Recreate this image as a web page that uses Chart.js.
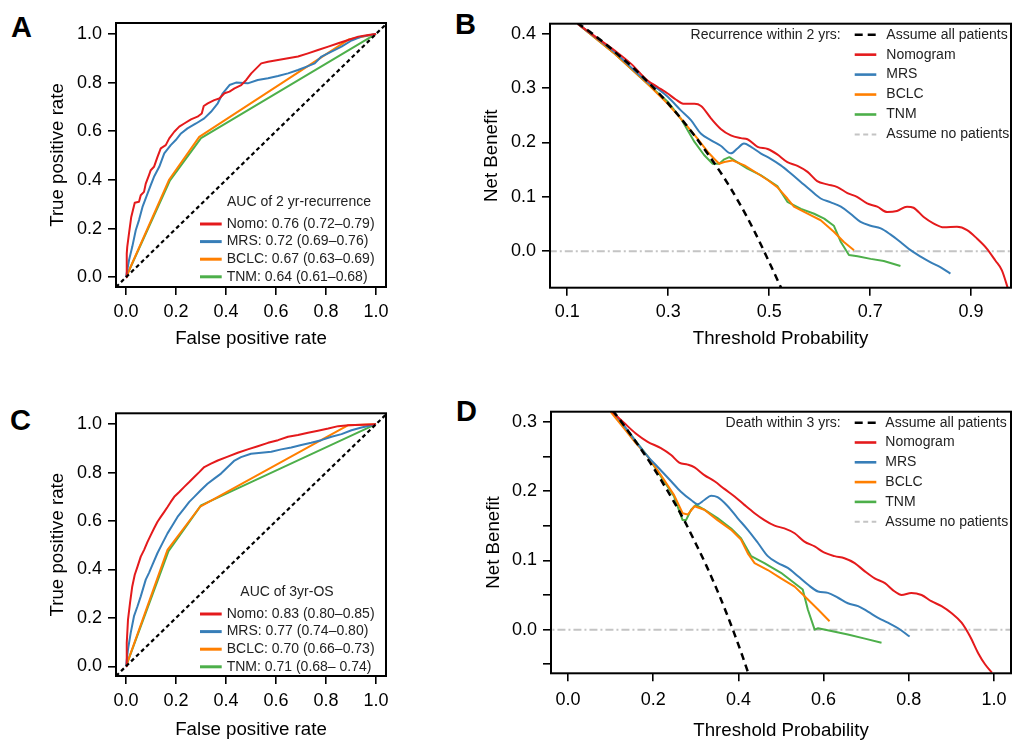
<!DOCTYPE html>
<html><head><meta charset="utf-8">
<script src="https://cdn.jsdelivr.net/npm/chart.js@4.4.1/dist/chart.umd.min.js"></script>
<style>
html,body{margin:0;padding:0;background:#fff;width:1015px;height:747px;overflow:hidden;}
.panel{position:absolute;}
.letter{position:absolute;font-family:'Liberation Sans',Arial,Helvetica,sans-serif;font-weight:bold;font-size:29px;line-height:1;color:#000;}
</style></head><body>
<div class="letter" style="left:11px;top:13px">A</div>
<div class="letter" style="left:455px;top:10px">B</div>
<div class="letter" style="left:10px;top:406px">C</div>
<div class="letter" style="left:456px;top:397px">D</div>
<div class="panel" style="left:0px;top:0px"><canvas id="cA" width="400" height="370"></canvas></div>
<div class="panel" style="left:470px;top:0px"><canvas id="cB" width="545" height="370"></canvas></div>
<div class="panel" style="left:0px;top:390px"><canvas id="cC" width="400" height="357"></canvas></div>
<div class="panel" style="left:470px;top:390px"><canvas id="cD" width="545" height="357"></canvas></div>
<script>
// ---------------- DATA ----------------
// Panel A: ROC, 2-yr recurrence
const rocA_nomo_fpr = [0,0.003,0.005,0.012,0.021,0.035,0.052,0.059,0.072,0.079,0.092,0.099,0.112,0.126,0.139,0.159,0.173,0.193,0.213,0.233,0.26,0.286,0.303,0.311,0.327,0.353,0.373,0.394,0.414,0.434,0.461,0.481,0.501,0.541,0.568,0.608,0.648,0.688,0.728,0.768,0.809,0.849,0.889,0.929,0.969,1];
const rocA_nomo_tpr = [0,0.097,0.125,0.18,0.248,0.306,0.31,0.337,0.351,0.385,0.42,0.44,0.454,0.495,0.53,0.543,0.571,0.598,0.619,0.632,0.649,0.66,0.673,0.704,0.715,0.728,0.735,0.756,0.763,0.776,0.79,0.811,0.838,0.879,0.886,0.893,0.9,0.907,0.92,0.934,0.948,0.962,0.975,0.989,0.996,1];
const rocA_mrs_fpr = [0,0.012,0.025,0.039,0.052,0.066,0.086,0.099,0.112,0.133,0.153,0.179,0.199,0.22,0.246,0.28,0.313,0.34,0.367,0.387,0.414,0.44,0.487,0.527,0.568,0.608,0.648,0.688,0.728,0.755,0.782,0.822,0.862,0.902,0.942,1];
const rocA_mrs_tpr = [0,0.07,0.125,0.193,0.235,0.289,0.344,0.379,0.413,0.454,0.509,0.543,0.564,0.591,0.612,0.632,0.653,0.68,0.715,0.756,0.79,0.8,0.797,0.811,0.818,0.827,0.838,0.852,0.868,0.879,0.907,0.927,0.948,0.973,0.989,1];
const rocA_bclc_fpr = [0,0.173,0.293,0.89,1];
const rocA_bclc_tpr = [0,0.402,0.577,0.977,1];
const rocA_tnm_fpr = [0,0.176,0.30,1];
const rocA_tnm_tpr = [0,0.398,0.572,1];
const rocA_title = "AUC of 2 yr-recurrence";
const rocA_labels = ["Nomo: 0.76 (0.72\u20130.79)","MRS: 0.72 (0.69\u20130.76)","BCLC: 0.67 (0.63\u20130.69)","TNM: 0.64 (0.61\u20130.68)"];

// Panel C: ROC, 3-yr OS
const rocC_nomo_fpr = [0,0.003,0.008,0.016,0.025,0.035,0.046,0.059,0.072,0.086,0.099,0.112,0.126,0.139,0.153,0.166,0.179,0.193,0.213,0.233,0.253,0.273,0.293,0.313,0.34,0.367,0.407,0.447,0.487,0.527,0.568,0.608,0.648,0.688,0.728,0.768,0.809,0.849,0.889,1];
const rocC_nomo_tpr = [0,0.097,0.193,0.261,0.33,0.378,0.412,0.453,0.48,0.514,0.542,0.569,0.597,0.617,0.638,0.658,0.679,0.7,0.72,0.741,0.761,0.782,0.802,0.823,0.837,0.85,0.866,0.882,0.896,0.909,0.923,0.934,0.948,0.955,0.965,0.973,0.982,0.992,0.996,1];
const rocC_mrs_fpr = [0,0.008,0.019,0.032,0.046,0.059,0.079,0.092,0.106,0.126,0.146,0.166,0.186,0.206,0.233,0.253,0.273,0.299,0.326,0.353,0.38,0.407,0.434,0.46,0.5,0.541,0.581,0.621,0.661,0.701,0.741,0.781,0.822,0.862,0.902,0.942,1];
const rocC_mrs_tpr = [0,0.07,0.139,0.207,0.248,0.289,0.358,0.386,0.42,0.468,0.509,0.549,0.583,0.617,0.652,0.679,0.7,0.727,0.754,0.775,0.796,0.823,0.85,0.864,0.878,0.882,0.886,0.896,0.904,0.914,0.923,0.934,0.948,0.959,0.975,0.986,1];
const rocC_bclc_fpr = [0,0.166,0.297,0.889,1];
const rocC_bclc_tpr = [0,0.481,0.66,0.996,1];
const rocC_tnm_fpr = [0,0.17,0.30,1];
const rocC_tnm_tpr = [0,0.476,0.665,1];
const rocC_title = "AUC of 3yr-OS";
const rocC_labels = ["Nomo: 0.83 (0.80\u20130.85)","MRS: 0.77 (0.74\u20130.80)","BCLC: 0.70 (0.66\u20130.73)","TNM: 0.71 (0.68\u2013 0.74)"];

// reference diagonal
const diag_x = [-0.04, 1.04];
const diag_y = [-0.04, 1.04];

// Panel B: DCA, recurrence within 2 yrs
const dcaB_all_x = [0.12,0.15,0.18,0.2,0.23,0.26,0.29,0.32,0.35,0.38,0.41,0.44,0.47,0.5,0.525];
const dcaB_all_y = [0.42,0.4,0.378,0.362,0.338,0.311,0.282,0.25,0.215,0.177,0.136,0.09,0.038,-0.02,-0.07];
const dcaB_nomo_x = [0.121,0.161,0.194,0.226,0.259,0.279,0.299,0.315,0.332,0.352,0.365,0.385,0.404,0.424,0.444,0.457,0.477,0.497,0.516,0.536,0.556,0.576,0.595,0.615,0.635,0.655,0.674,0.694,0.714,0.734,0.753,0.773,0.786,0.806,0.826,0.846,0.872,0.892,0.912,0.931,0.948,0.961,0.975];
const dcaB_nomo_y = [0.418,0.391,0.369,0.345,0.314,0.302,0.29,0.279,0.271,0.271,0.267,0.244,0.225,0.213,0.208,0.206,0.192,0.188,0.178,0.164,0.157,0.146,0.129,0.123,0.118,0.107,0.1,0.088,0.082,0.072,0.074,0.082,0.08,0.063,0.051,0.044,0.045,0.039,0.023,0.005,-0.017,-0.035,-0.075];
const dcaB_mrs_x = [0.121,0.194,0.259,0.279,0.299,0.325,0.345,0.365,0.385,0.404,0.424,0.437,0.45,0.464,0.483,0.503,0.523,0.543,0.562,0.582,0.602,0.622,0.642,0.661,0.681,0.701,0.721,0.74,0.76,0.78,0.8,0.819,0.839,0.859];
const dcaB_mrs_y = [0.418,0.366,0.311,0.299,0.284,0.259,0.241,0.216,0.204,0.194,0.18,0.189,0.198,0.192,0.18,0.17,0.158,0.143,0.128,0.112,0.097,0.09,0.082,0.069,0.054,0.047,0.042,0.031,0.017,0.002,-0.01,-0.02,-0.029,-0.041];
const dcaB_bclc_x = [0.121,0.194,0.259,0.299,0.325,0.358,0.378,0.391,0.401,0.411,0.427,0.451,0.477,0.497,0.516,0.536,0.549,0.576,0.602,0.628,0.648,0.668];
const dcaB_bclc_y = [0.418,0.363,0.308,0.271,0.244,0.207,0.183,0.17,0.161,0.164,0.167,0.158,0.143,0.131,0.118,0.097,0.082,0.069,0.057,0.036,0.017,0.002];
const dcaB_tnm_x = [0.121,0.194,0.259,0.299,0.325,0.352,0.371,0.388,0.401,0.411,0.421,0.431,0.457,0.483,0.516,0.536,0.563,0.589,0.609,0.628,0.642,0.658,0.675,0.701,0.727,0.76];
const dcaB_tnm_y = [0.418,0.363,0.308,0.275,0.244,0.201,0.177,0.161,0.161,0.169,0.173,0.167,0.152,0.14,0.12,0.091,0.078,0.069,0.06,0.047,0.017,-0.007,-0.009,-0.014,-0.018,-0.027];
const dcaB_none_x = [0, 1];
const dcaB_none_y = [0, 0];
const dcaB_title = "Recurrence within 2 yrs:";

// Panel D: DCA, death within 3 yrs
const dcaD_all_x = [0.105,0.125,0.15,0.175,0.2,0.225,0.25,0.275,0.3,0.325,0.35,0.37,0.39,0.41,0.425];
const dcaD_all_y = [0.316,0.3,0.279,0.257,0.234,0.209,0.183,0.155,0.124,0.092,0.057,0.027,-0.005,-0.039,-0.066];
const dcaD_nomo_x = [0.104,0.132,0.159,0.187,0.218,0.242,0.261,0.281,0.297,0.32,0.344,0.367,0.391,0.414,0.438,0.461,0.485,0.508,0.532,0.555,0.579,0.602,0.626,0.649,0.673,0.697,0.72,0.744,0.767,0.783,0.806,0.83,0.853,0.877,0.9,0.924,0.944,0.963,0.979,0.995];
const dcaD_nomo_y = [0.314,0.298,0.283,0.271,0.262,0.252,0.241,0.238,0.234,0.223,0.214,0.203,0.192,0.18,0.168,0.158,0.15,0.146,0.139,0.127,0.12,0.111,0.106,0.103,0.096,0.084,0.074,0.067,0.055,0.05,0.053,0.05,0.041,0.034,0.024,0.01,-0.01,-0.034,-0.05,-0.062];
const dcaD_mrs_x = [0.105,0.15,0.187,0.21,0.242,0.265,0.289,0.304,0.32,0.336,0.351,0.375,0.398,0.422,0.446,0.469,0.493,0.516,0.54,0.563,0.587,0.61,0.634,0.657,0.681,0.704,0.728,0.751,0.775,0.802];
const dcaD_mrs_y = [0.316,0.279,0.25,0.235,0.214,0.199,0.187,0.181,0.187,0.193,0.191,0.178,0.161,0.144,0.125,0.106,0.096,0.089,0.077,0.065,0.055,0.053,0.046,0.038,0.034,0.026,0.017,0.01,0.002,-0.01];
const dcaD_bclc_x = [0.1,0.132,0.159,0.187,0.218,0.249,0.269,0.281,0.297,0.32,0.351,0.383,0.406,0.422,0.438,0.469,0.5,0.532,0.559,0.587,0.614];
const dcaD_bclc_y = [0.314,0.29,0.269,0.25,0.223,0.194,0.168,0.166,0.178,0.173,0.158,0.144,0.13,0.11,0.096,0.086,0.074,0.062,0.046,0.029,0.012];
const dcaD_tnm_x = [0.104,0.15,0.187,0.218,0.249,0.269,0.277,0.289,0.3,0.32,0.351,0.383,0.406,0.43,0.461,0.5,0.532,0.551,0.563,0.579,0.587,0.618,0.657,0.697,0.736];
const dcaD_tnm_y = [0.314,0.279,0.25,0.221,0.192,0.158,0.158,0.173,0.18,0.173,0.161,0.146,0.132,0.106,0.096,0.082,0.067,0.058,0.029,0,0.002,-0.002,-0.007,-0.013,-0.019];
const dcaD_none_x = [-0.1, 1.1];
const dcaD_none_y = [0, 0];
const dcaD_title = "Death within 3 yrs:";

const dca_labels = ["Assume all patients","Nomogram","MRS","BCLC","TNM","Assume no patients"];

// tick values and labels
const rocTicks = [0,0.2,0.4,0.6,0.8,1.0];
const rocTickLabels = ["0.0","0.2","0.4","0.6","0.8","1.0"];
const bXTicks = [0.1,0.3,0.5,0.7,0.9];
const bXTickLabels = ["0.1","0.3","0.5","0.7","0.9"];
const bYTicks = [0,0.1,0.2,0.3,0.4];
const bYTickLabels = ["0.0","0.1","0.2","0.3","0.4"];
const dXTicks = [0,0.2,0.4,0.6,0.8,1.0];
const dXTickLabels = ["0.0","0.2","0.4","0.6","0.8","1.0"];
const dYTicks = [-0.05,0,0.05,0.1,0.15,0.2,0.25,0.3];
const dYTickLabels = ["","0.0","","0.1","","0.2","","0.3"];

// ---------------- STYLE ----------------
const FONT = "'Liberation Sans', Arial, Helvetica, sans-serif";
const RED = '#E41A1C', BLUE = '#377EB8', ORANGE = '#FF7F00', GREEN = '#4DAF4A';
const GREY = '#c4c4c4';

function series(xs, ys, color, width, dash, smooth){
  return {
    data: xs.map((x,i)=>({x:x, y:ys[i]})),
    borderColor: color, backgroundColor: color, borderWidth: width,
    borderDash: dash || [], pointRadius: 0, pointHoverRadius: 0, fill: false,
    tension: 0, cubicInterpolationMode: smooth ? 'monotone' : 'default',
    clip: 0, borderCapStyle: 'butt', borderJoinStyle: 'round'
  };
}

function axis(min, max, ticks, labels, titleText, fitSize, isX, tickPad){
  return {
    type: 'linear', min: min, max: max, bounds: 'data',
    afterBuildTicks: s => { s.ticks = ticks.map(v => ({value: v})); },
    afterFit: s => { if (isX) s.height = fitSize; else s.width = fitSize; },
    ticks: { autoSkip: false, maxRotation: 0, padding: tickPad, color: '#000',
             font: { family: FONT, size: 18 }, callback: (v, i) => labels[i] },
    grid: { display: true, drawOnChartArea: false, drawTicks: true, tickLength: 8, color: '#000', lineWidth: 1.6 },
    border: { display: false },
    title: { display: true, text: titleText, color: '#000', font: { family: FONT, size: 18.7 }, padding: 0 }
  };
}

const boxPlugin = {
  id: 'boxFrame',
  afterDatasetsDraw(chart){
    const a = chart.chartArea, ctx = chart.ctx;
    ctx.save(); ctx.strokeStyle = '#000'; ctx.lineWidth = 2; ctx.setLineDash([]);
    ctx.strokeRect(a.left, a.top, a.right - a.left, a.bottom - a.top);
    ctx.restore();
  }
};

function legendPlugin(cfg){
  return {
    id: 'panelLegend',
    afterDraw(chart){
      const ctx = chart.ctx;
      ctx.save();
      ctx.font = '14px ' + FONT; ctx.textBaseline = 'middle'; ctx.fillStyle = '#222';
      ctx.textAlign = cfg.titleAlign; ctx.fillText(cfg.title, cfg.titleX, cfg.titleY);
      cfg.items.forEach((it, i) => {
        const y = cfg.y0 + i * cfg.dy;
        ctx.beginPath(); ctx.strokeStyle = it.color; ctx.lineWidth = it.width;
        ctx.setLineDash(it.dash || []); ctx.lineCap = 'butt';
        ctx.moveTo(cfg.sx0, y); ctx.lineTo(cfg.sx1, y); ctx.stroke();
        ctx.setLineDash([]);
        ctx.textAlign = 'left'; ctx.fillStyle = '#222';
        ctx.fillText(it.text, cfg.tx, y);
      });
      ctx.restore();
    }
  };
}

function makeChart(id, datasets, scales, padding, legendCfg){
  return new Chart(document.getElementById(id), {
    type: 'line',
    data: { datasets: datasets },
    options: {
      responsive: false, animation: false, devicePixelRatio: 1, events: [],
      layout: { padding: padding },
      plugins: { legend: { display: false }, tooltip: { enabled: false } },
      scales: scales
    },
    plugins: [boxPlugin, legendPlugin(legendCfg)]
  });
}

// ---------------- PANEL A ----------------
makeChart('cA', [
  series(diag_x, diag_y, '#000', 2.2, [4,3]),
  series(rocA_nomo_fpr, rocA_nomo_tpr, RED, 2),
  series(rocA_mrs_fpr, rocA_mrs_tpr, BLUE, 2),
  series(rocA_bclc_fpr, rocA_bclc_tpr, ORANGE, 2),
  series(rocA_tnm_fpr, rocA_tnm_tpr, GREEN, 2)
], {
  x: axis(-0.04, 1.04, rocTicks, rocTickLabels, 'False positive rate', 63.3, true, 6),
  y: axis(-0.04, 1.045, rocTicks, rocTickLabels, 'True positive rate', 69, false, 6)
}, {left:47, top:23, right:14, bottom:19.7}, {
  title: rocA_title, titleAlign: 'center', titleX: 299, titleY: 201.7,
  sx0: 200, sx1: 221.7, tx: 226.7, y0: 224, dy: 17.6,
  items: [
    {text: rocA_labels[0], color: RED, width: 3},
    {text: rocA_labels[1], color: BLUE, width: 3},
    {text: rocA_labels[2], color: ORANGE, width: 3},
    {text: rocA_labels[3], color: GREEN, width: 3}
  ]
});

// ---------------- PANEL C ----------------
makeChart('cC', [
  series(diag_x, diag_y, '#000', 2.2, [4,3]),
  series(rocC_nomo_fpr, rocC_nomo_tpr, RED, 2),
  series(rocC_mrs_fpr, rocC_mrs_tpr, BLUE, 2),
  series(rocC_bclc_fpr, rocC_bclc_tpr, ORANGE, 2),
  series(rocC_tnm_fpr, rocC_tnm_tpr, GREEN, 2)
], {
  x: axis(-0.04, 1.04, rocTicks, rocTickLabels, 'False positive rate', 64.8, true, 6),
  y: axis(-0.04, 1.045, rocTicks, rocTickLabels, 'True positive rate', 69, false, 6)
}, {left:47, top:23.3, right:14, bottom:6.2}, {
  title: rocC_title, titleAlign: 'center', titleX: 287, titleY: 201.7,
  sx0: 200, sx1: 221.7, tx: 226.7, y0: 224, dy: 17.6,
  items: [
    {text: rocC_labels[0], color: RED, width: 3},
    {text: rocC_labels[1], color: BLUE, width: 3},
    {text: rocC_labels[2], color: ORANGE, width: 3},
    {text: rocC_labels[3], color: GREEN, width: 3}
  ]
});

// ---------------- PANEL B ----------------
function dcaItems(){
  return [
    {text: dca_labels[0], color: '#000', width: 2.6, dash: [8,5]},
    {text: dca_labels[1], color: RED, width: 2.6},
    {text: dca_labels[2], color: BLUE, width: 2.6},
    {text: dca_labels[3], color: ORANGE, width: 2.6},
    {text: dca_labels[4], color: GREEN, width: 2.6},
    {text: dca_labels[5], color: GREY, width: 2, dash: [5,3.5]}
  ];
}
makeChart('cB', [
  series(dcaB_all_x, dcaB_all_y, '#000', 2.5, [7,5], true),
  series(dcaB_nomo_x, dcaB_nomo_y, RED, 2, null, true),
  series(dcaB_mrs_x, dcaB_mrs_y, BLUE, 2, null, true),
  series(dcaB_bclc_x, dcaB_bclc_y, ORANGE, 2, null, false),
  series(dcaB_tnm_x, dcaB_tnm_y, GREEN, 2, null, false),
  series(dcaB_none_x, dcaB_none_y, GREY, 2, [8,3,2,3])
], {
  x: axis(0.0658, 0.979, bXTicks, bXTickLabels, 'Threshold Probability', 62.6, true, 6),
  y: axis(-0.067, 0.4184, bYTicks, bYTickLabels, 'Net Benefit', 69.1, false, 6)
}, {left:10.9, top:23.7, right:4, bottom:19.7}, {
  title: dcaB_title, titleAlign: 'right', titleX: 370.7, titleY: 34.7,
  sx0: 384.7, sx1: 406.3, tx: 416.3, y0: 34.7, dy: 19.95,
  items: dcaItems()
});

// ---------------- PANEL D ----------------
makeChart('cD', [
  series(dcaD_all_x, dcaD_all_y, '#000', 2.5, [7,5], true),
  series(dcaD_nomo_x, dcaD_nomo_y, RED, 2, null, true),
  series(dcaD_mrs_x, dcaD_mrs_y, BLUE, 2, null, true),
  series(dcaD_bclc_x, dcaD_bclc_y, ORANGE, 2, null, false),
  series(dcaD_tnm_x, dcaD_tnm_y, GREEN, 2, null, false),
  series(dcaD_none_x, dcaD_none_y, GREY, 2, [8,3,2,3])
], {
  x: axis(-0.04, 1.04, dXTicks, dXTickLabels, 'Threshold Probability', 69.2, true, 8),
  y: axis(-0.063, 0.3144, dYTicks, dYTickLabels, 'Net Benefit', 68.8, false, 6)
}, {left:12.2, top:21.7, right:4, bottom:4.5}, {
  title: dcaD_title, titleAlign: 'right', titleX: 370.7, titleY: 32.7,
  sx0: 384.7, sx1: 406.3, tx: 415.3, y0: 32.7, dy: 19.8,
  items: dcaItems()
});
</script>
</body></html>
